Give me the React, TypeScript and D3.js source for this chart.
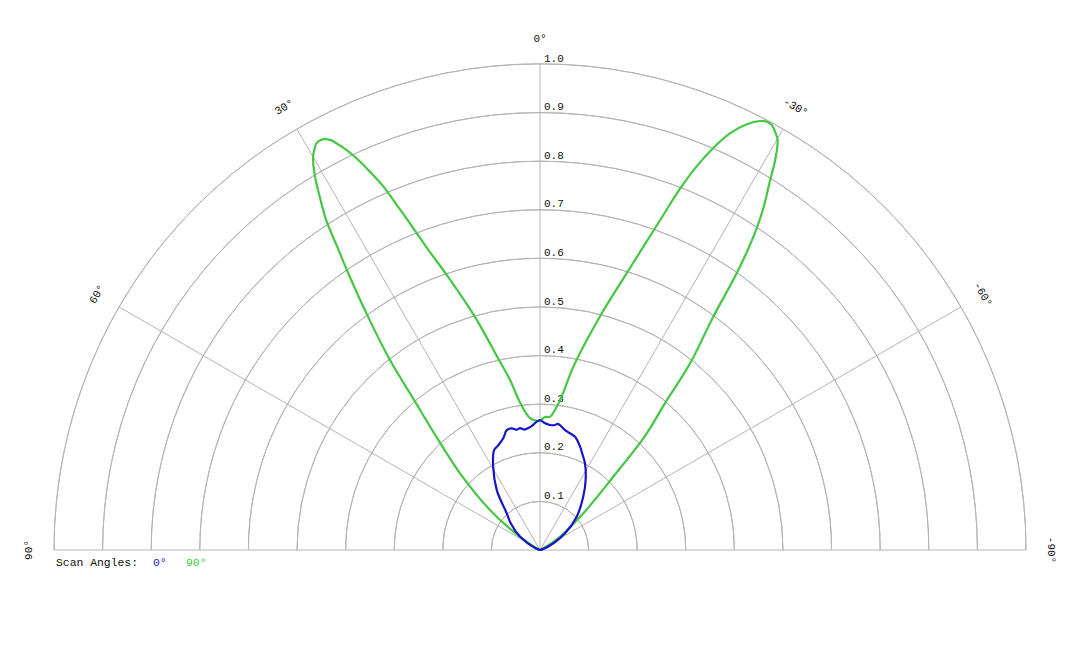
import React from "react";
import * as d3 from "d3";

const ringTicks = [0.1, 0.2, 0.3, 0.4, 0.5, 0.6, 0.7, 0.8, 0.9, 1.0];
const spokeAngles = [90, 60, 30, 0, -30, -60, -90];
const angleLabels = ["90°", "60°", "30°", "0°", "-30°", "-60°", "-90°"];

const greenAngles = [90, 70, 60, 56.4, 51.3, 46.2, 42.4, 40.1, 38.3, 36.4, 34.6, 33.75, 33.0, 32.0, 31.0, 30.0, 29.6, 28.8, 27.9, 27.1, 26.6, 25.8, 25.1, 24.2, 23.3, 22.55, 21.7, 20.4, 18.6, 15.6, 12.0, 10.0, 7.5, 4.3, 1.5, 0, -2.2, -4.3, -6.7, -8.5, -10.3, -14.4, -17.4, -20.0, -21.2, -22.2, -23.3, -24.5, -25.9, -27.15, -27.9, -28.6, -29.5, -30.1, -31.1, -31.9, -33.1, -33.9, -34.7, -35.5, -36.6, -38.8, -40.4, -42.6, -45.0, -49.7, -56.4, -62, -70, -90];
const greenValues = [0, 0, 0.02, 0.055, 0.132, 0.228, 0.318, 0.399, 0.498, 0.596, 0.70, 0.752, 0.806, 0.854, 0.90, 0.934, 0.942, 0.955, 0.956, 0.948, 0.936, 0.914, 0.89, 0.853, 0.814, 0.769, 0.723, 0.659, 0.593, 0.498, 0.396, 0.355, 0.303, 0.272, 0.266, 0.266, 0.274, 0.275, 0.297, 0.33, 0.383, 0.496, 0.597, 0.722, 0.798, 0.852, 0.90, 0.942, 0.974, 0.992, 0.997, 0.996, 0.985, 0.975, 0.937, 0.896, 0.843, 0.802, 0.751, 0.691, 0.598, 0.493, 0.397, 0.32, 0.213, 0.117, 0.049, 0.01, 0, 0];

const blueAngles = [90, 70, 56.4, 48, 42.2, 35.8, 29.3, 24.7, 21.7, 18.2, 15.5, 13.1, 11, 9.3, 7.5, 5.5, 3.1, 1.5, 0, -2.3, -4.6, -6.8, -8, -9.1, -11.8, -14.4, -17.2, -21.2, -24, -27.4, -33.1, -39.1, -47.8, -56.3, -63.3, -75, -90];
const blueValues = [0, 0.01, 0.049, 0.08, 0.102, 0.152, 0.197, 0.226, 0.232, 0.242, 0.256, 0.257, 0.252, 0.254, 0.25, 0.252, 0.258, 0.264, 0.267, 0.261, 0.258, 0.259, 0.262, 0.26, 0.252, 0.248, 0.244, 0.228, 0.215, 0.201, 0.172, 0.141, 0.102, 0.062, 0.031, 0.005, 0];

const legendTitle = "Scan Angles:";
const seriesNames = ["0°", "90°"];

const W = 1080;
const H = 648;
const cx = 540;
const cy = 550;
const R = 486;
const BLUE = "#1616c8";
const GREEN = "#44c844";
const GRID = "#b4b4b4";
const FONT = "'Liberation Mono', 'DejaVu Sans Mono', monospace";

export default function App() {
  const r = d3.scaleLinear().domain([0, 1]).range([0, R]);
  const toRad = (deg: number) => (-deg * Math.PI) / 180;

  const line = d3
    .lineRadial<[number, number]>()
    .angle((d) => toRad(d[0]))
    .radius((d) => r(d[1]))
    .curve(d3.curveCatmullRom.alpha(0.5));

  const greenPts = greenAngles.map((a, i) => [a, greenValues[i]] as [number, number]);
  const bluePts = blueAngles.map((a, i) => [a, blueValues[i]] as [number, number]);

  const arc = d3
    .arc<number>()
    .innerRadius((d) => r(d))
    .outerRadius((d) => r(d))
    .startAngle(-Math.PI / 2)
    .endAngle(Math.PI / 2);

  const labelR = 511;

  return (
    <svg
      width={W}
      height={H}
      style={{ position: "absolute", left: 0, top: 0, background: "#fff" }}
      fontFamily={FONT}
    >
      <g transform={`translate(${cx},${cy})`}>
        {ringTicks.map((t) => (
          <path key={t} d={arc(t) || ""} fill="none" stroke={GRID} strokeWidth={1} />
        ))}
        {spokeAngles.map((a) => {
          const x = r(1) * Math.sin(toRad(a));
          const y = -r(1) * Math.cos(toRad(a));
          return <line key={a} x1={0} y1={0} x2={x} y2={y} stroke={GRID} strokeWidth={1} />;
        })}
        {ringTicks.map((t) => (
          <text key={t} x={4} y={-r(t) - 2.5} fontSize={11} fill="#111">
            {t.toFixed(1)}
          </text>
        ))}
        {spokeAngles.map((a, i) => {
          const x = labelR * Math.sin(toRad(a));
          const y = -labelR * Math.cos(toRad(a));
          return (
            <text
              key={a}
              transform={`translate(${x},${y}) rotate(${-a})`}
              textAnchor="middle"
              dominantBaseline="middle"
              fontSize={11}
              fill="#111"
            >
              {angleLabels[i]}
            </text>
          );
        })}
        <path d={line(greenPts) || ""} fill="none" stroke={GREEN} strokeWidth={2.2} strokeLinejoin="round" />
        <path d={line(bluePts) || ""} fill="none" stroke={BLUE} strokeWidth={2.2} strokeLinejoin="round" />
      </g>
      <text x={56} y={566} fontSize={11.4} fill="#111">
        {legendTitle}
      </text>
      <text x={153} y={566} fontSize={11.4} fill={BLUE}>
        {seriesNames[0]}
      </text>
      <text x={186} y={566} fontSize={11.4} fill={GREEN}>
        {seriesNames[1]}
      </text>
    </svg>
  );
}
